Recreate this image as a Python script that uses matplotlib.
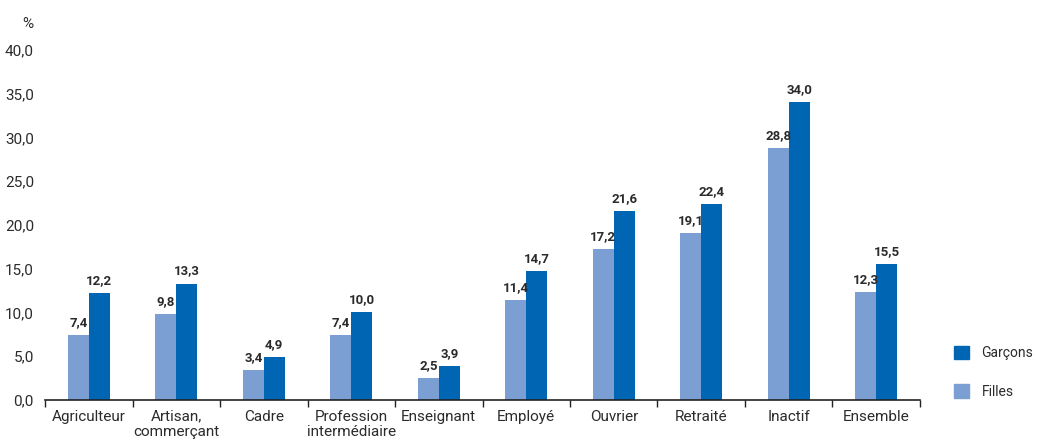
import numpy as np
from matplotlib import pyplot as plt
from matplotlib.patches import Patch

categories = ["Agriculteur", "Artisan,\ncommerçant", "Cadre", "Profession\nintermédiaire",
              "Enseignant", "Employé", "Ouvrier", "Retraité", "Inactif", "Ensemble"]
filles = [7.4, 9.8, 3.4, 7.4, 2.5, 11.4, 17.2, 19.1, 28.8, 12.3]
garcons = [12.2, 13.3, 4.9, 10.0, 3.9, 14.7, 21.6, 22.4, 34.0, 15.5]
y_ticks = [0, 5, 10, 15, 20, 25, 30, 35, 40]

FILLES_COLOR = "#7B9FD2"
GARCONS_COLOR = "#0066B3"
TEXT_COLOR = "#2b2b2b"

plt.rcParams["font.family"] = ["Roboto", "DejaVu Sans"]


def fmt(v):
    return f"{v:.1f}".replace(".", ",")


fig = plt.figure(figsize=(10.4, 4.44), dpi=100)
ax = fig.add_axes([0.0433, 0.0991, 0.8413, 0.7883])

x = np.arange(len(categories))
width = 0.24
ax.bar(x - width / 2, filles, width, color=FILLES_COLOR)
ax.bar(x + width / 2, garcons, width, color=GARCONS_COLOR)

for xi, f, g in zip(x, filles, garcons):
    ax.annotate(fmt(f), (xi - width / 2, f), xytext=(0, 4.5), textcoords="offset points",
                ha="center", va="bottom", fontsize=9.5, fontweight="bold", color=TEXT_COLOR)
    ax.annotate(fmt(g), (xi + width / 2, g), xytext=(0, 4.5), textcoords="offset points",
                ha="center", va="bottom", fontsize=9.5, fontweight="bold", color=TEXT_COLOR)

ax.set_xlim(-0.5, len(categories) - 0.5)
ax.set_ylim(0, 40)
ax.set_yticks(y_ticks)
ax.set_yticklabels([fmt(v) for v in y_ticks])
ax.tick_params(axis="y", length=0, pad=8, labelsize=11, labelcolor=TEXT_COLOR)

ax.set_xticks(x)
ax.set_xticklabels(categories, linespacing=1.15)
ax.tick_params(axis="x", which="major", length=0, pad=7, labelsize=11, labelcolor=TEXT_COLOR)
ax.set_xticks(np.arange(-0.5, len(categories), 1.0), minor=True)
ax.tick_params(axis="x", which="minor", length=5, width=1, direction="out", color="#222222")

for side in ["top", "right", "left"]:
    ax.spines[side].set_visible(False)
ax.spines["bottom"].set_color("#222222")
ax.spines["bottom"].set_linewidth(1.2)

fig.text(0.027, 0.945, "%", ha="center", va="center", fontsize=11, color=TEXT_COLOR)

handles = [Patch(color=GARCONS_COLOR, label="Garçons"), Patch(color=FILLES_COLOR, label="Filles")]
fig.legend(handles=handles, loc="center left", bbox_to_anchor=(0.905, 0.162), frameon=False,
           fontsize=10, handlelength=1.1, handleheight=1.1, labelspacing=1.75, handletextpad=0.9,
           labelcolor=TEXT_COLOR)

fig.savefig("out.png", dpi=100)
